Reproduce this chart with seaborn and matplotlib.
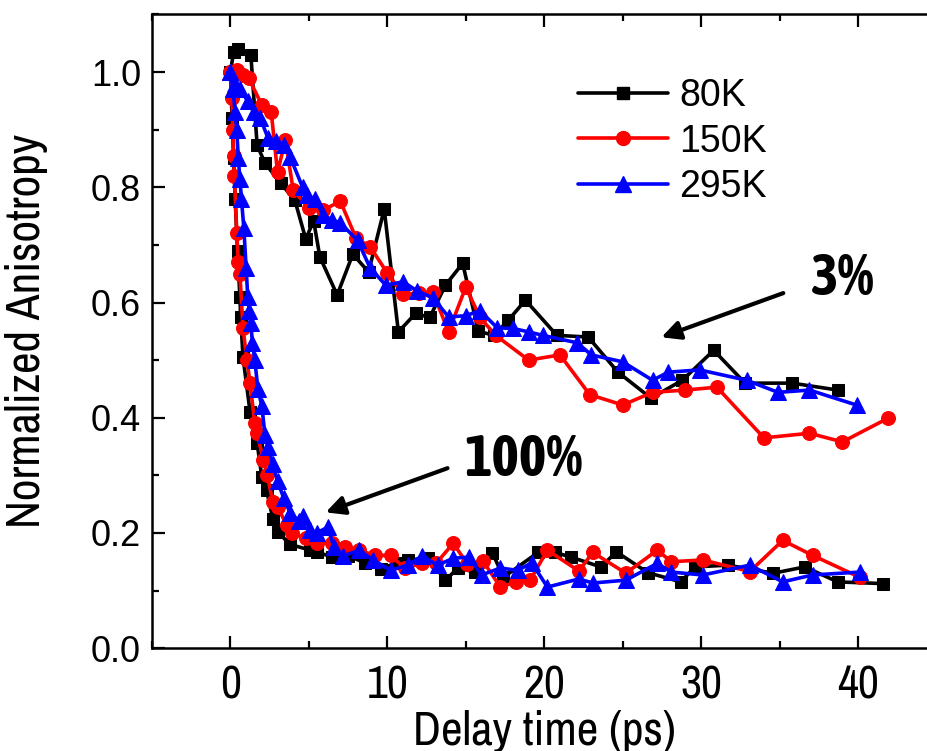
import numpy as np
import pandas as pd
import matplotlib
import matplotlib.pyplot as plt
import seaborn as sns
from matplotlib.lines import Line2D
from matplotlib.ticker import MultipleLocator

matplotlib.use('Agg')

# 80K - fast (100%) and slow (3%) anisotropy decays
t_80_fast = [0.0, 0.1, 0.2, 0.3, 0.45, 0.6, 0.65, 0.8, 1.25, 1.7, 2.0, 2.3, 2.7, 3.0, 3.8,
             5.1, 5.5, 6.5, 7.5, 8.6, 9.6, 10.6, 11.3, 12.6, 13.7, 14.5, 15.6, 16.7, 17.4,
             19.6, 20.7, 21.7, 23.6, 24.6, 26.6, 28.7, 29.6, 31.7, 34.6, 36.6, 38.7, 41.6]
r_80_fast = [1.00, 0.92, 0.85, 0.78, 0.69, 0.61, 0.575, 0.505, 0.41, 0.356, 0.297, 0.274,
             0.225, 0.202, 0.18, 0.17, 0.167, 0.158, 0.16, 0.148, 0.138, 0.148, 0.153, 0.156,
             0.118, 0.139, 0.132, 0.165, 0.123, 0.166, 0.166, 0.158, 0.141, 0.167, 0.131,
             0.115, 0.141, 0.144, 0.13, 0.141, 0.115, 0.112]
t_80_slow = [0.0, 0.2, 0.5, 1.3, 1.7, 2.2, 3.2, 4.1, 4.8, 5.3, 5.7, 6.8, 7.8, 8.8, 9.8,
             10.7, 11.8, 12.7, 13.7, 14.8, 15.8, 16.8, 17.7, 18.8, 20.8, 22.8, 24.7, 26.8,
             28.8, 30.8, 32.8, 35.8, 38.7]
r_80_slow = [1.00, 1.035, 1.04, 1.03, 0.873, 0.842, 0.807, 0.778, 0.71, 0.742, 0.679, 0.613,
             0.684, 0.653, 0.762, 0.549, 0.581, 0.574, 0.63, 0.668, 0.55, 0.543, 0.569, 0.604,
             0.543, 0.54, 0.479, 0.434, 0.465, 0.517, 0.46, 0.46, 0.448]

# 150K
t_150_fast = [0.0, 0.1, 0.15, 0.2, 0.25, 0.4, 0.5, 0.6, 0.8, 1.05, 1.25, 1.55, 1.7, 2.1,
              2.35, 2.7, 3.0, 3.6, 3.9, 4.8, 5.5, 6.5, 7.3, 8.2, 9.2, 10.2, 11.1, 12.2,
              13.1, 14.2, 15.1, 16.1, 17.2, 18.2, 19.1, 20.2, 22.2, 23.1, 25.2, 27.2, 28.1,
              30.1, 33.1, 35.2, 37.1, 40.1]
r_150_fast = [1.00, 0.955, 0.90, 0.855, 0.82, 0.72, 0.67, 0.65, 0.555, 0.50, 0.46, 0.39,
              0.373, 0.326, 0.30, 0.253, 0.245, 0.213, 0.20, 0.191, 0.182, 0.182, 0.175,
              0.17, 0.161, 0.161, 0.139, 0.147, 0.147, 0.182, 0.146, 0.151, 0.106, 0.115,
              0.118, 0.17, 0.134, 0.166, 0.13, 0.17, 0.15, 0.153, 0.133, 0.187, 0.161, 0.123]
t_150_slow = [0.0, 0.4, 0.8, 1.15, 2.0, 2.6, 3.0, 3.5, 4.0, 5.0, 5.9, 7.0, 8.0, 8.9, 10.0,
              11.0, 12.0, 12.9, 13.9, 15.0, 15.9, 16.9, 19.0, 21.0, 22.9, 25.0, 26.9, 29.0,
              31.0, 34.0, 36.9, 39.0, 41.9]
r_150_slow = [1.00, 1.003, 0.995, 0.99, 0.943, 0.93, 0.826, 0.882, 0.795, 0.764, 0.76, 0.776,
              0.712, 0.697, 0.651, 0.614, 0.616, 0.618, 0.549, 0.627, 0.574, 0.543, 0.50,
              0.509, 0.44, 0.422, 0.444, 0.448, 0.453, 0.365, 0.373, 0.358, 0.399]

# 295K
t_295_fast = [0.0, 0.15, 0.3, 0.4, 0.5, 0.6, 0.7, 0.85, 1.0, 1.1, 1.2, 1.3, 1.4, 1.55,
              1.75, 2.0, 2.2, 2.4, 2.7, 3.0, 3.4, 3.8, 4.4, 4.6, 5.1, 5.5, 6.2, 6.6, 7.2,
              8.2, 9.1, 10.2, 11.3, 12.2, 13.2, 14.2, 15.2, 16.0, 17.2, 18.3, 19.2, 20.2,
              22.2, 23.1, 25.2, 27.2, 28.1, 30.1, 33.1, 35.2, 37.1, 40.1]
r_295_fast = [1.00, 0.97, 0.93, 0.90, 0.85, 0.815, 0.78, 0.73, 0.66, 0.61, 0.585, 0.565,
              0.53, 0.50, 0.45, 0.42, 0.37, 0.35, 0.32, 0.29, 0.26, 0.235, 0.22, 0.23,
              0.205, 0.20, 0.21, 0.175, 0.16, 0.17, 0.153, 0.135, 0.144, 0.16, 0.144, 0.156,
              0.158, 0.127, 0.139, 0.135, 0.148, 0.106, 0.12, 0.113, 0.118, 0.147, 0.132,
              0.127, 0.144, 0.115, 0.127, 0.132]
t_295_slow = [0.0, 0.3, 0.6, 1.1, 1.5, 1.9, 2.4, 2.9, 3.4, 3.8, 4.6, 4.9, 5.4, 5.9, 6.5,
              7.0, 8.1, 8.9, 9.9, 11.0, 11.9, 12.9, 13.9, 15.0, 15.9, 17.0, 18.0, 19.0, 19.9,
              22.1, 23.0, 25.0, 26.9, 27.9, 29.9, 32.9, 34.9, 36.9, 39.9]
r_295_slow = [1.00, 0.98, 0.97, 0.95, 0.93, 0.92, 0.885, 0.88, 0.873, 0.853, 0.80, 0.786,
              0.78, 0.752, 0.743, 0.738, 0.708, 0.66, 0.63, 0.636, 0.62, 0.608, 0.575, 0.577,
              0.586, 0.556, 0.555, 0.549, 0.543, 0.53, 0.509, 0.497, 0.465, 0.479, 0.483,
              0.465, 0.444, 0.448, 0.422]

temps = ['80K', '150K', '295K']
colors = ['black', 'red', 'blue']
markers = ['s', 'o', '^']
msizes = [9, 10, 11]

rows = []
series = {
    '80K': [(t_80_fast, r_80_fast), (t_80_slow, r_80_slow)],
    '150K': [(t_150_fast, r_150_fast), (t_150_slow, r_150_slow)],
    '295K': [(t_295_fast, r_295_fast), (t_295_slow, r_295_slow)],
}
for temp in temps:
    for k, (tt, rr) in enumerate(series[temp]):
        for a, b in zip(tt, rr):
            rows.append({'Temp': temp, 'set': k, 't': a, 'r': b})
df = pd.DataFrame(rows)

sns.set_style('ticks')
plt.rcParams['font.family'] = ['Liberation Sans', 'DejaVu Sans']
for key in ['text.color', 'axes.labelcolor', 'xtick.color', 'ytick.color', 'axes.edgecolor']:
    plt.rcParams[key] = 'black'
narrow = ['Archivo Narrow', 'Liberation Sans']
narrow_bold = ['Asap Condensed', 'Liberation Sans']

fig = plt.figure(figsize=(9.28, 7.51), dpi=100)
ax = fig.add_axes([0.1638, 0.137, 0.8454, 0.8437])

for temp, c, m, ms in zip(temps, colors, markers, msizes):
    sub = df[df['Temp'] == temp]
    sns.lineplot(data=sub, x='t', y='r', units='set', estimator=None, sort=False,
                 color=c, marker=m, markersize=ms, markeredgecolor=c, lw=2.6,
                 legend=False, ax=ax)

ax.set_xlim(-5, 45)
ax.set_ylim(0, 1.1)
ax.xaxis.set_major_locator(MultipleLocator(10))
ax.xaxis.set_minor_locator(MultipleLocator(5))
ax.yaxis.set_major_locator(MultipleLocator(0.2))
ax.yaxis.set_minor_locator(MultipleLocator(0.1))
ax.tick_params(which='both', direction='in', top=True, right=False, width=1.6)
ax.tick_params(which='major', length=9)
ax.tick_params(which='minor', length=5)
ax.tick_params(axis='y', labelsize=26, pad=8)
ax.tick_params(axis='x', pad=12)
ax.set_xticks([0, 10, 20, 30, 40])
ax.set_xticklabels(['0', '10', '20', '30', '40'], family=narrow, fontsize=33)
ax.set_yticks([0.0, 0.2, 0.4, 0.6, 0.8, 1.0])
ax.set_yticklabels(['0.0', '0.2', '0.4', '0.6', '0.8', '1.0'])
for s in ax.spines.values():
    s.set_linewidth(1.8)

ax.set_xlabel('Delay time (ps)', family=narrow, fontsize=34, labelpad=2)
ax.set_ylabel('Normalized Anisotropy', family=narrow, fontsize=34)
ax.yaxis.set_label_coords(-0.133, 0.5)

handles = [Line2D([], [], color=c, marker=m, markersize=ms, lw=2.6)
           for c, m, ms in zip(colors, markers, msizes)]
ax.legend(handles, temps, loc='upper left', bbox_to_anchor=(0.543, 0.9),
          frameon=False, fontsize=27, handlelength=2.4, handletextpad=0.3,
          labelspacing=0.26, borderpad=0, borderaxespad=0)

arrow = dict(arrowstyle='-|>', color='black', lw=3, mutation_scale=28)
ax.annotate('', xy=(27.3, 0.538), xytext=(35.4, 0.618), arrowprops=arrow)
ax.annotate('', xy=(5.9, 0.234), xytext=(14.0, 0.314), arrowprops=arrow)
ax.text(39.0, 0.64, '3%', family=narrow_bold, fontsize=42, fontweight='bold',
        ha='center', va='center')
ax.text(18.7, 0.326, '100%', family=narrow_bold, fontsize=42, fontweight='bold',
        ha='center', va='center')

fig.savefig('out.png', dpi=100)
plt.close()
